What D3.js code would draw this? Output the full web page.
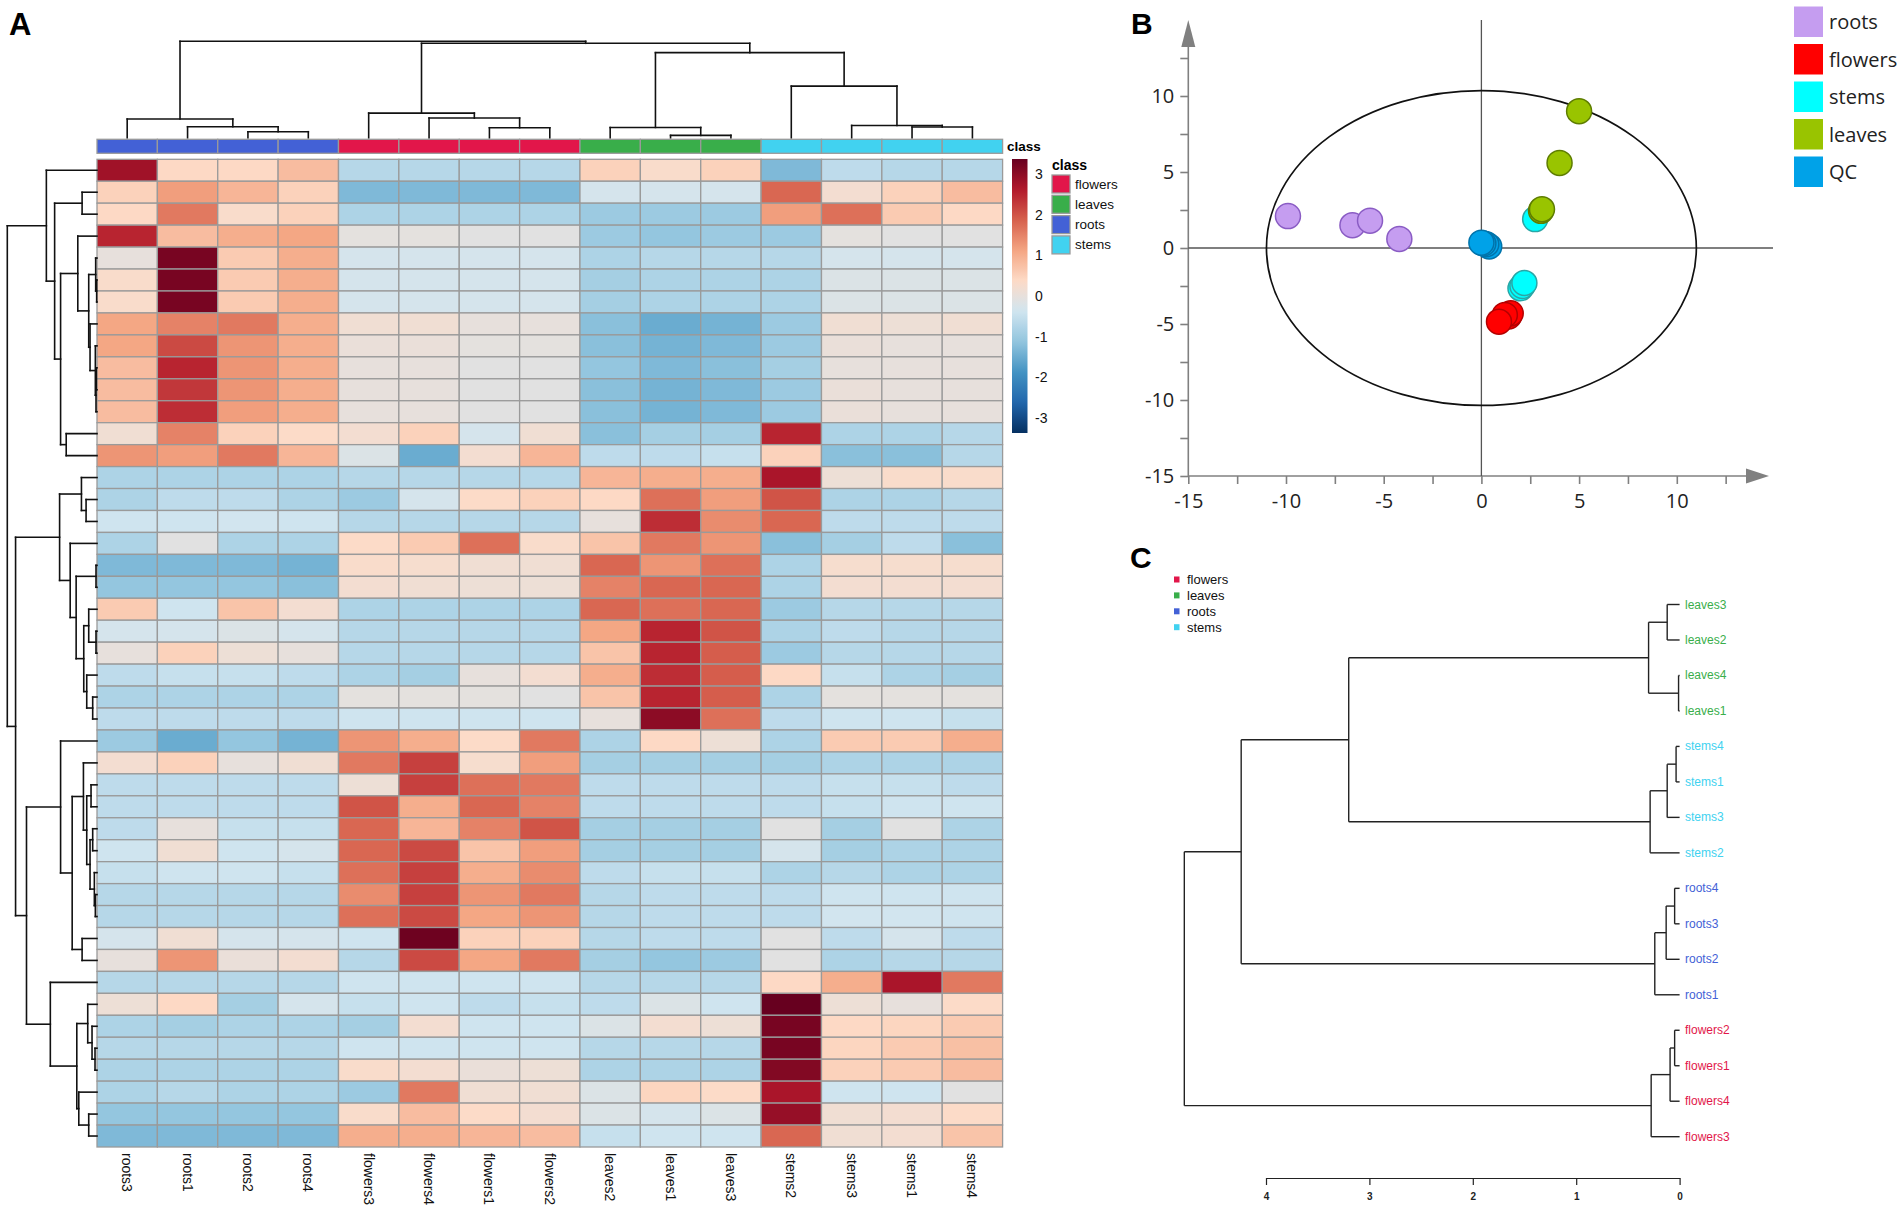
<!DOCTYPE html>
<html><head><meta charset="utf-8">
<script src="https://cdn.jsdelivr.net/npm/d3@7"></script>
<style>body{margin:0;background:#fff}svg{display:block}</style>
</head><body>
<svg id="fig" width="1902" height="1214"></svg>
<script>
// ---------------- DATA: panel A (heatmap) ----------------
const sampleCols = ["roots3","roots1","roots2","roots4","flowers3","flowers4","flowers1","flowers2","leaves2","leaves1","leaves3","stems2","stems3","stems1","stems4"];
const colClasses = ["roots","roots","roots","roots","flowers","flowers","flowers","flowers","leaves","leaves","leaves","stems","stems","stems","stems"];
const classNames = ["flowers","leaves","roots","stems"];
const classColors = ["#e2164a","#39ae4a","#4361d6","#41d2f0"];
const legendTicks = [3,2,1,0,-1,-2,-3];
const colorDomain = [-3.37, 3.37];
const paletteRdBu = ["#053061","#2166ac","#4393c3","#92c5de","#d1e5f0","#fddbc7","#f4a582","#d6604d","#b2182b","#67001f"];
const heatValues = [
 [2.8,0.4,0.4,0.8,-0.7,-0.7,-0.7,-0.7,0.5,0.3,0.5,-1.3,-0.6,-0.7,-0.7],
 [0.5,1.2,0.9,0.5,-1.3,-1.3,-1.3,-1.3,-0.3,-0.3,-0.3,1.8,0.2,0.5,0.8],
 [0.4,1.6,0.3,0.5,-0.8,-0.8,-0.8,-0.8,-1.0,-1.0,-1.0,1.2,1.7,0.6,0.4],
 [2.5,0.8,1.0,1.1,-0.05,-0.05,-0.1,-0.1,-1.0,-1.1,-1.0,-1.0,-0.05,-0.1,-0.1],
 [0.0,3.2,0.6,1.0,-0.3,-0.3,-0.3,-0.3,-0.8,-0.7,-0.7,-0.7,-0.3,-0.3,-0.3],
 [0.3,3.2,0.6,1.0,-0.3,-0.3,-0.3,-0.3,-0.9,-0.8,-0.8,-0.8,-0.2,-0.2,-0.2],
 [0.3,3.2,0.6,1.0,-0.3,-0.3,-0.3,-0.3,-0.9,-0.8,-0.8,-0.8,-0.2,-0.2,-0.2],
 [1.1,1.5,1.6,1.0,0.15,0.15,0.0,0.0,-1.2,-1.5,-1.4,-1.0,0.15,0.1,0.15],
 [1.1,2.1,1.3,1.0,0.05,0.05,-0.05,-0.05,-1.2,-1.4,-1.3,-1.0,0.05,0.0,0.0],
 [0.8,2.5,1.3,1.0,0.0,0.0,-0.1,-0.1,-1.1,-1.3,-1.2,-0.9,0.0,0.0,0.0],
 [0.8,2.3,1.3,1.0,0.0,0.0,-0.1,-0.1,-1.2,-1.4,-1.3,-1.0,0.05,0.0,0.0],
 [0.8,2.4,1.2,1.0,0.0,0.0,-0.1,-0.1,-1.2,-1.4,-1.3,-1.0,0.05,0.0,0.0],
 [0.15,1.5,0.5,0.35,0.2,0.5,-0.3,0.15,-1.2,-0.9,-0.9,2.5,-0.8,-0.8,-0.7],
 [1.3,1.2,1.6,0.9,-0.2,-1.5,0.2,0.9,-0.6,-0.6,-0.5,0.5,-1.2,-1.2,-0.7],
 [-0.8,-0.8,-0.8,-0.8,-0.7,-0.7,-0.7,-0.7,0.9,1.0,1.0,2.7,0.1,0.3,0.3],
 [-0.8,-0.6,-0.6,-0.8,-1.0,-0.3,0.35,0.5,0.4,1.7,1.2,2.0,-0.8,-0.8,-0.7],
 [-0.4,-0.4,-0.35,-0.4,-0.7,-0.7,-0.7,-0.7,0.0,2.4,1.4,1.8,-0.6,-0.6,-0.6],
 [-0.8,-0.1,-0.8,-0.8,0.35,0.6,1.7,0.3,0.7,1.6,1.3,-1.2,-0.9,-0.6,-1.2],
 [-1.3,-1.3,-1.3,-1.4,0.3,0.25,0.15,0.15,1.8,1.3,1.7,-0.8,0.25,0.25,0.25],
 [-1.1,-1.1,-1.1,-1.2,0.2,0.15,0.1,0.1,1.5,1.8,1.8,-0.8,0.2,0.2,0.2],
 [0.6,-0.4,0.7,0.2,-0.8,-0.8,-0.8,-0.8,1.8,1.7,1.8,-1.0,-0.7,-0.7,-0.7],
 [-0.3,-0.3,-0.2,-0.3,-0.7,-0.7,-0.7,-0.7,1.1,2.5,2.0,-0.8,-0.6,-0.7,-0.7],
 [0.0,0.5,0.1,0.0,-0.7,-0.7,-0.7,-0.7,0.7,2.5,1.9,-1.0,-0.7,-0.7,-0.7],
 [-0.6,-0.5,-0.5,-0.6,-0.8,-0.9,0.0,0.2,1.0,2.4,1.9,0.4,-0.5,-0.8,-0.9],
 [-0.8,-0.8,-0.8,-0.8,-0.05,-0.05,-0.05,-0.1,0.7,2.5,1.9,-0.8,-0.05,-0.05,-0.05],
 [-0.6,-0.6,-0.6,-0.6,-0.4,-0.4,-0.4,-0.4,0.0,3.0,1.7,-0.6,-0.4,-0.4,-0.5],
 [-1.0,-1.5,-1.1,-1.4,1.3,1.0,0.35,1.6,-0.8,0.4,0.1,-0.8,0.6,0.6,1.0],
 [0.2,0.5,0.0,0.15,1.6,2.2,0.25,1.2,-0.9,-0.9,-0.9,-0.9,-0.8,-0.8,-0.8],
 [-0.6,-0.6,-0.6,-0.6,0.1,2.2,1.7,1.6,-0.6,-0.6,-0.6,-0.6,-0.5,-0.5,-0.6],
 [-0.6,-0.6,-0.6,-0.6,2.0,1.0,1.8,1.5,-0.6,-0.6,-0.6,-0.6,-0.5,-0.4,-0.4],
 [-0.6,0.0,-0.5,-0.5,1.8,0.9,1.5,2.0,-0.9,-0.9,-0.9,-0.1,-0.9,-0.1,-0.8],
 [-0.4,0.15,-0.4,-0.3,1.8,2.1,0.7,1.2,-0.9,-0.9,-0.9,-0.3,-0.9,-0.8,-0.8],
 [-0.5,-0.4,-0.4,-0.5,1.7,2.2,1.0,1.4,-0.6,-0.5,-0.5,-0.8,-0.7,-0.8,-0.8],
 [-0.7,-0.7,-0.7,-0.7,1.4,2.2,1.3,1.6,-0.7,-0.6,-0.6,-0.6,-0.4,-0.4,-0.4],
 [-0.7,-0.7,-0.7,-0.7,1.7,2.1,1.1,1.3,-0.7,-0.6,-0.6,-0.6,-0.35,-0.35,-0.4],
 [-0.3,0.15,-0.3,-0.3,-0.4,3.3,0.5,0.5,-0.7,-0.6,-0.6,-0.1,-0.6,-0.3,-0.6],
 [0.0,1.3,0.05,0.2,-0.7,2.1,1.1,1.6,-0.9,-1.1,-1.0,-0.1,-0.8,-0.7,-0.7],
 [-0.7,-0.7,-0.7,-0.7,-0.4,-0.4,-0.4,-0.4,-0.7,-0.7,-0.7,0.4,1.0,2.7,1.6],
 [0.1,0.4,-0.9,-0.3,-0.5,-0.4,-0.6,-0.5,-0.6,-0.2,-0.4,3.4,0.1,0.0,0.35],
 [-0.8,-0.9,-0.8,-0.8,-0.9,0.2,-0.4,-0.4,-0.2,0.2,0.1,3.2,0.4,0.45,0.6],
 [-0.7,-0.7,-0.7,-0.7,-0.4,-0.4,-0.4,-0.4,-0.7,-0.7,-0.7,3.2,0.45,0.6,0.75],
 [-0.8,-0.8,-0.8,-0.8,0.3,0.2,0.05,0.1,-0.8,-0.8,-0.8,3.1,0.5,0.6,0.8],
 [-0.8,-0.7,-0.8,-0.8,-1.0,1.6,0.15,0.15,-0.2,0.45,0.35,2.7,-0.4,-0.4,-0.1],
 [-1.1,-1.1,-1.1,-1.1,0.3,0.8,0.35,0.2,-0.2,-0.3,-0.2,2.9,0.15,0.2,0.35],
 [-1.3,-1.3,-1.3,-1.3,1.0,1.0,0.9,0.8,-0.5,-0.4,-0.4,1.8,0.15,0.2,0.7]
];
// dendrograms as [height, left, right]; leaves are column / row indices
const colTree = [96.7, [18.7, 0, [11, 1, [6, 2, 3]]],
  [94.7, [24.7, 4, [19.7, 5, [10, 6, 7]]],
   [85.3, [10.3, 8, [2.3, 9, 10]], [51.7, 11, [12.3, 12, [10.7, 13, 14]]]]]];
const rowTreeTop = [153, 0, [128, [45, 1, 2],
  [110, [58, 3, [25, [4, 4, [1, 5, 6]], [21, 7, [5, 8, [3, [2, 9, 10], 11]]]]], [93, 12, 13]]]];
const rowTreeLeaves = [113, [47, 14, [33, 15, 16]],
  [81, 17, [63, [3, 18, 19], [40, [25, 20, [3, 21, 22]], [31, 23, [13, 24, 25]]]]]];
const rowTreeFlowers = [110, 26, [75, [41, 27, [31, [18, 28, 29], [21, [13, 30, 31], [8, 32, [5, 33, 34]]]]], [45, 35, 36]]];
const rowTreeStems = [141, 37, [61, [28, 38, [15, 39, [6, 40, 41]]], [55, 42, [25, 43, 44]]]];
const rowTree = [271, rowTreeTop, [246, rowTreeLeaves, [213, rowTreeFlowers, rowTreeStems]]];

// ---------------- DATA: panel B (PCA scores) ----------------
const pcaGroups = ["roots","flowers","stems","leaves","QC"];
const pcaFill = ["#c59df0","#ff0000","#00ffff","#99c400","#00a2e8"];
const pcaStroke = ["#8a5cc4","#b40000","#2aa6a6","#5e7d00","#0073aa"];
const pcaRoots = [[-9.9,2.1],[-6.6,1.5],[-5.7,1.8],[-4.2,0.6]];
const pcaFlowers = [[1.4,-4.5],[1.5,-4.3],[1.2,-4.4],[0.9,-4.85]];
const pcaStems = [[2.0,-2.65],[2.1,-2.5],[2.2,-2.3],[2.75,1.9]];
const pcaLeaves = [[3.05,2.45],[3.1,2.55],[4.0,5.6],[5.0,9.0]];
const pcaQC = [[0.4,0.1],[0.25,0.25],[0.1,0.3],[0.0,0.35]];
const pcaMajorTicks = [-15,-10,-5,0,5,10];
const pcaMinorTicks = [-12.5,-7.5,-2.5,2.5,7.5,12.5];
const ellipseRadii = [11.0, 10.36];

// ---------------- DATA: panel C (sample clustering) ----------------
const hcLeaves = ["leaves3","leaves2","leaves4","leaves1","stems4","stems1","stems3","stems2","roots4","roots3","roots2","roots1","flowers2","flowers1","flowers4","flowers3"];
const hcLeafClass = ["leaves","leaves","leaves","leaves","stems","stems","stems","stems","roots","roots","roots","roots","flowers","flowers","flowers","flowers"];
const hcTree = [4.79, [4.24, [3.20, [0.30, [0.12, 0, 1], [0.01, 2, 3]], [0.285, [0.12, [0.034, 4, 5], 6], 7]],
  [0.24, [0.13, [0.048, 8, 9], 10], 11]], [0.275, [0.092, [0.048, 12, 13], 14], 15]];
const hcTicks = [4,3,2,1,0];

// ---------------- helpers ----------------
const svg = d3.select("#fig");
const classColor = d3.scaleOrdinal(classNames, classColors);
const FONT = "'Liberation Sans', Arial, sans-serif";
const plain = d => String(d);   // ASCII hyphen-minus as in the original

function layoutTree(node, posOf) {
  if (typeof node === "number") return {pos: posOf(node), h: 0, segs: []};
  const [h, a, b] = node;
  const A = layoutTree(a, posOf), B = layoutTree(b, posOf);
  return {pos: (A.pos + B.pos) / 2, h,
    segs: A.segs.concat(B.segs, [[A.pos, A.h, A.pos, h], [B.pos, B.h, B.pos, h], [A.pos, h, B.pos, h]])};
}

// ---------------- Panel A ----------------
const gA = svg.append("g");
gA.append("text").attr("x", 9).attr("y", 35).attr("font-family", FONT).attr("font-weight", "bold")
  .attr("font-size", 31).text("A");

const xCol = d3.scaleBand().domain(d3.range(sampleCols.length)).range([97, 1002.6]);
const yRow = d3.scaleBand().domain(d3.range(heatValues.length)).range([159.3, 1147]);
const step = (colorDomain[1] - colorDomain[0]) / (paletteRdBu.length - 1);
const color = d3.scaleLinear().domain(paletteRdBu.map((c, i) => colorDomain[0] + i * step))
  .range(paletteRdBu).interpolate(d3.interpolateRgb).clamp(true);

// cells
const cells = [];
heatValues.forEach((row, r) => row.forEach((v, c) => cells.push({r, c, v})));
gA.append("g").selectAll("rect").data(cells).join("rect")
  .attr("x", d => xCol(d.c)).attr("y", d => yRow(d.r))
  .attr("width", xCol.bandwidth()).attr("height", yRow.bandwidth())
  .attr("fill", d => color(d.v)).attr("stroke", "#9a9a9a").attr("stroke-width", 1.3);

// class bar
gA.append("g").selectAll("rect").data(colClasses).join("rect")
  .attr("x", (d, i) => xCol(i)).attr("y", 139.3).attr("width", xCol.bandwidth()).attr("height", 14)
  .attr("fill", d => classColor(d)).attr("stroke", "#9a9a9a").attr("stroke-width", 1.3);
gA.append("text").attr("x", 1007).attr("y", 151).attr("font-family", FONT).attr("font-weight", "bold")
  .attr("font-size", 13.5).text("class");

// column labels
gA.append("g").selectAll("text").data(sampleCols).join("text")
  .attr("transform", (d, i) => `translate(${xCol(i) + xCol.bandwidth() / 2},1153) rotate(90)`)
  .attr("dominant-baseline", "central").attr("font-family", FONT).attr("font-size", 14)
  .attr("fill", "#111").text(d => d);

// column dendrogram
const hCol = d3.scaleLinear().domain([0, 96.7]).range([137.7, 41.3]);
const colLay = layoutTree(colTree, i => xCol(i) + xCol.bandwidth() / 2);
gA.append("g").selectAll("line").data(colLay.segs).join("line")
  .attr("x1", d => d[0]).attr("y1", d => hCol(d[1])).attr("x2", d => d[2]).attr("y2", d => hCol(d[3]))
  .attr("stroke", "#111").attr("stroke-width", 1.6).attr("stroke-linecap", "square");

// row dendrogram
const hRow = d3.scaleLinear().domain([0, 271]).range([97, 7.3]);
const rowLay = layoutTree(rowTree, i => yRow(i) + yRow.bandwidth() / 2);
gA.append("g").selectAll("line").data(rowLay.segs).join("line")
  .attr("y1", d => d[0]).attr("x1", d => hRow(d[1])).attr("y2", d => d[2]).attr("x2", d => hRow(d[3]))
  .attr("stroke", "#111").attr("stroke-width", 1.6).attr("stroke-linecap", "square");

// color legend
const legScale = d3.scaleLinear().domain(colorDomain).range([433, 159]);
const grad = svg.append("defs").append("linearGradient").attr("id", "cbar")
  .attr("x1", 0).attr("y1", 1).attr("x2", 0).attr("y2", 0);
d3.range(0, 1.0001, 0.02).forEach(t => grad.append("stop").attr("offset", t)
  .attr("stop-color", color(colorDomain[0] + t * (colorDomain[1] - colorDomain[0]))));
gA.append("rect").attr("x", 1012).attr("y", 159).attr("width", 15.5).attr("height", 274).attr("fill", "url(#cbar)");
const legAxis = gA.append("g").attr("transform", "translate(1027,0)")
  .call(d3.axisRight(legScale).tickValues(legendTicks).tickFormat(plain).tickSize(0).tickPadding(8));
legAxis.select(".domain").remove();
legAxis.selectAll("text").attr("font-family", FONT).attr("font-size", 14).attr("fill", "#111");

// class legend
gA.append("text").attr("x", 1052).attr("y", 170).attr("font-family", FONT).attr("font-weight", "bold")
  .attr("font-size", 14).text("class");
const clLeg = gA.append("g").selectAll("g").data(classNames).join("g")
  .attr("transform", (d, i) => `translate(1052,${175 + i * 20.3})`);
clLeg.append("rect").attr("width", 18).attr("height", 18).attr("fill", d => classColor(d))
  .attr("stroke", "#9a9a9a").attr("stroke-width", 1.3);
clLeg.append("text").attr("x", 23).attr("y", 9).attr("dominant-baseline", "central")
  .attr("font-family", FONT).attr("font-size", 13.5).attr("fill", "#111").text(d => d);

// ---------------- Panel B ----------------
const gB = svg.append("g");
const BFONT = "'Open Sans', 'Noto Sans', sans-serif";
gB.append("text").attr("x", 1131).attr("y", 34).attr("font-family", FONT).attr("font-weight", "bold")
  .attr("font-size", 30).text("B");
const px = d3.scaleLinear().domain([0, 5]).range([1481.4, 1579.1]);
const py = d3.scaleLinear().domain([0, 5]).range([248, 172]);
const axisGray = "#808080";

// axis lines + arrows
gB.append("line").attr("x1", px(-15)).attr("y1", py(-15)).attr("x2", 1750).attr("y2", py(-15))
  .attr("stroke", axisGray).attr("stroke-width", 1.6);
gB.append("path").attr("d", `M1746,${py(-15) - 7.5}L1769,${py(-15)}L1746,${py(-15) + 7.5}Z`).attr("fill", axisGray);
gB.append("line").attr("x1", px(-15)).attr("y1", py(-15)).attr("x2", px(-15)).attr("y2", 44)
  .attr("stroke", axisGray).attr("stroke-width", 1.6);
gB.append("path").attr("d", `M${px(-15) - 7},47L${px(-15)},20L${px(-15) + 7},47Z`).attr("fill", axisGray);

const xAx = gB.append("g").attr("transform", `translate(0,${py(-15)})`)
  .call(d3.axisBottom(px).tickValues(pcaMajorTicks.concat(pcaMinorTicks))
    .tickFormat(d => pcaMajorTicks.includes(d) ? String(d) : "").tickSize(8).tickPadding(10));
const yAx = gB.append("g").attr("transform", `translate(${px(-15)},0)`)
  .call(d3.axisLeft(py).tickValues(pcaMajorTicks.concat(pcaMinorTicks))
    .tickFormat(d => pcaMajorTicks.includes(d) ? String(d) : "").tickSize(8).tickPadding(6));
[xAx, yAx].forEach(a => {
  a.select(".domain").remove();
  a.selectAll("line").attr("stroke", axisGray).attr("stroke-width", 1.6);
  a.selectAll("text").attr("font-family", BFONT).attr("font-size", 20).attr("fill", "#222");
});

// zero lines
gB.append("line").attr("x1", px(0)).attr("x2", px(0)).attr("y1", 20).attr("y2", py(-15))
  .attr("stroke", "#555").attr("stroke-width", 1.3);
gB.append("line").attr("x1", px(-15)).attr("x2", 1773).attr("y1", py(0)).attr("y2", py(0))
  .attr("stroke", "#555").attr("stroke-width", 1.3);

// ellipse
gB.append("ellipse").attr("cx", px(0)).attr("cy", py(0))
  .attr("rx", px(ellipseRadii[0]) - px(0)).attr("ry", py(0) - py(ellipseRadii[1]))
  .attr("fill", "none").attr("stroke", "#111").attr("stroke-width", 1.7);

// points
const pcaData = [pcaRoots, pcaFlowers, pcaStems, pcaLeaves, pcaQC];
const drawOrder = [0, 4, 2, 3, 1];
drawOrder.forEach(gi => {
  gB.append("g").selectAll("circle").data(pcaData[gi]).join("circle")
    .attr("cx", d => px(d[0])).attr("cy", d => py(d[1])).attr("r", 12.5)
    .attr("fill", pcaFill[gi]).attr("stroke", pcaStroke[gi]).attr("stroke-width", 1.5);
});

// legend
const bLeg = gB.append("g").selectAll("g").data(pcaGroups).join("g")
  .attr("transform", (d, i) => `translate(1794,${6.5 + i * 37.5})`);
bLeg.append("rect").attr("width", 29).attr("height", 30.5).attr("fill", (d, i) => pcaFill[i]);
bLeg.append("text").attr("x", 35).attr("y", 15).attr("dominant-baseline", "central")
  .attr("font-family", BFONT).attr("font-size", 20).attr("fill", "#222").text(d => d);

// ---------------- Panel C ----------------
const gC = svg.append("g");
const NARROW = "'Liberation Sans Narrow', 'Liberation Sans', Arial, sans-serif";
gC.append("text").attr("x", 1130).attr("y", 568).attr("font-family", FONT).attr("font-weight", "bold")
  .attr("font-size", 30).text("C");
const cLeg = gC.append("g").selectAll("g").data(classNames).join("g")
  .attr("transform", (d, i) => `translate(1174,${579.5 + i * 15.9})`);
cLeg.append("rect").attr("x", 0).attr("y", -3).attr("width", 5.5).attr("height", 6).attr("fill", d => classColor(d));
cLeg.append("text").attr("x", 13).attr("y", 0).attr("dominant-baseline", "central")
  .attr("font-family", NARROW).attr("font-size", 13).attr("fill", "#111").text(d => d);

const hx = d3.scaleLinear().domain([0, 4]).range([1679.6, 1266]);
const leafY = d3.scalePoint().domain(d3.range(hcLeaves.length)).range([604.5, 1136.7]);
const hcLay = layoutTree(hcTree, i => leafY(i));
gC.append("g").selectAll("line").data(hcLay.segs).join("line")
  .attr("y1", d => d[0]).attr("x1", d => hx(d[1])).attr("y2", d => d[2]).attr("x2", d => hx(d[3]))
  .attr("stroke", "#222").attr("stroke-width", 1.4);
gC.append("g").selectAll("text").data(hcLeaves).join("text")
  .attr("x", 1685).attr("y", (d, i) => leafY(i)).attr("dominant-baseline", "central")
  .attr("font-family", NARROW).attr("font-size", 12).attr("fill", (d, i) => classColor(hcLeafClass[i]))
  .text(d => d);
const cAx = gC.append("g").attr("transform", "translate(0,1178)")
  .call(d3.axisBottom(hx).tickValues(hcTicks).tickFormat(plain).tickSize(7).tickSizeOuter(0).tickPadding(8));
cAx.select(".domain").attr("stroke", "#222").attr("stroke-width", 1.2);
cAx.selectAll("line").attr("stroke", "#222").attr("stroke-width", 1.2);
cAx.selectAll("text").attr("font-family", FONT).attr("font-weight", "bold").attr("font-size", 10).attr("fill", "#222");
</script>
</body></html>
